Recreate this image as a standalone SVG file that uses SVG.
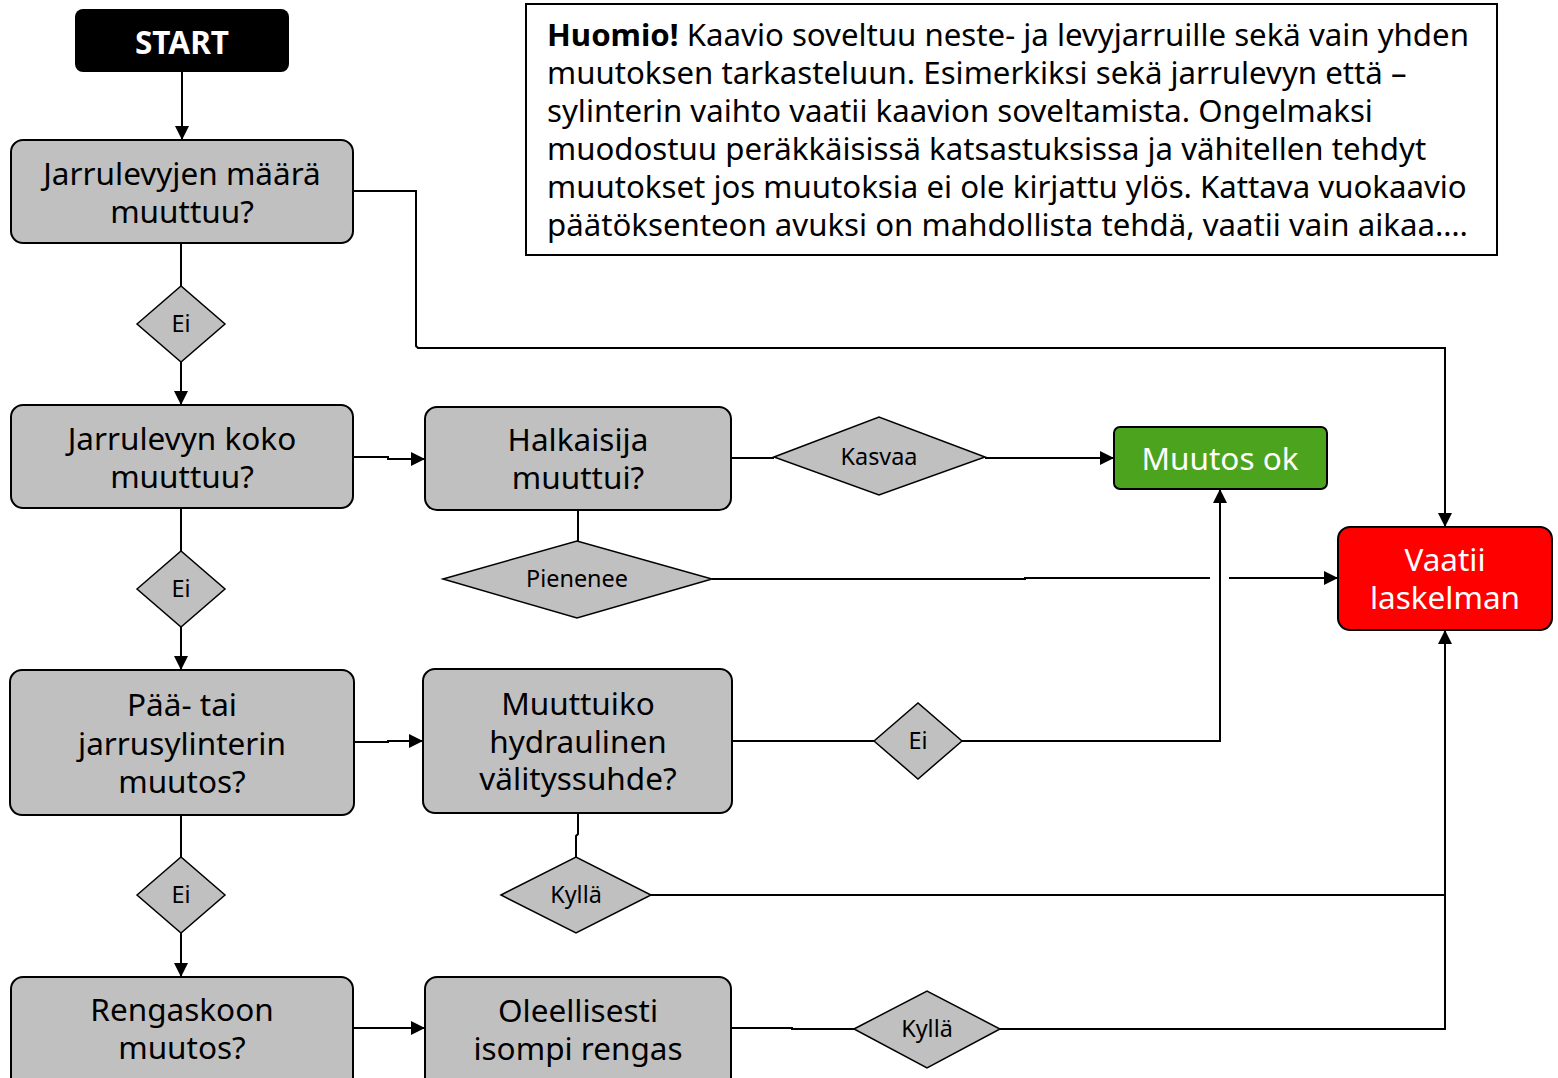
<svg xmlns="http://www.w3.org/2000/svg" width="1558" height="1078" viewBox="0 0 1558 1078">
<style>
.box{fill:#c0c0c0;stroke:#000;stroke-width:2}
.dia{fill:#c0c0c0;stroke:#000;stroke-width:1.5}
.t{font-family:"Noto Sans","Open Sans",sans-serif;font-size:31.5px;fill:#000;text-anchor:middle}
.d{font-family:"Noto Sans","Open Sans",sans-serif;font-size:23.4px;fill:#000;text-anchor:middle}
.w{fill:#fff}
.n{font-family:"Noto Sans","Open Sans",sans-serif;font-size:31.2px;fill:#000}
.c{fill:none;stroke:#000;stroke-width:2}
</style>
<defs>
<marker id="a" markerWidth="15" markerHeight="15" refX="14" refY="7.5" orient="auto" markerUnits="userSpaceOnUse" viewBox="0 0 15 15">
<path d="M0,0.5 L14,7.5 L0,14.5 z" fill="#000"/>
</marker>
</defs>
<rect width="1558" height="1078" fill="#fff"/>
<g id="connectors">
<path class="c" d="M182,72 V140" marker-end="url(#a)"/>
<path class="c" d="M181,243 V286"/>
<path class="c" d="M181,362 V405" marker-end="url(#a)"/>
<path class="c" d="M353,191 H416 V346 L418,348 H1445 V527" marker-end="url(#a)"/>
<path class="c" d="M181,508 V551"/>
<path class="c" d="M181,627 V670" marker-end="url(#a)"/>
<path class="c" d="M181,815 V857"/>
<path class="c" d="M181,933 V977" marker-end="url(#a)"/>
<path class="c" d="M353,457 H388 V459 H425" marker-end="url(#a)"/>
<path class="c" d="M731,458 H774"/>
<path class="c" d="M985,458 H1114" marker-end="url(#a)"/>
<path class="c" d="M578,510 V541"/>
<path class="c" d="M712,579 H1025 V578 H1210"/>
<path class="c" d="M1229,578 H1338" marker-end="url(#a)"/>
<path class="c" d="M354,742 H388 V741 H423" marker-end="url(#a)"/>
<path class="c" d="M732,741 H874"/>
<path class="c" d="M962,741 H1220 V489" marker-end="url(#a)"/>
<path class="c" d="M578,813 V834 L576,836 V857"/>
<path class="c" d="M651,895 H1445"/>
<path class="c" d="M353,1028 H425" marker-end="url(#a)"/>
<path class="c" d="M731,1028 H792 V1029 H854"/>
<path class="c" d="M1000,1029 H1445 V630" marker-end="url(#a)"/>
</g>
<g id="start">
<rect x="75" y="9" width="214" height="63" rx="8" fill="#000"/>
<text class="t w" x="182" y="54" font-weight="bold">START</text>
</g>
<g id="note">
<rect x="526" y="4" width="971" height="251" fill="#fff" stroke="#000" stroke-width="2"/>
<text class="n" x="547" y="46"><tspan font-weight="bold">Huomio!</tspan> Kaavio soveltuu neste- ja levyjarruille sekä vain yhden</text>
<text class="n" x="547" y="84">muutoksen tarkasteluun. Esimerkiksi sekä jarrulevyn että –</text>
<text class="n" x="547" y="122">sylinterin vaihto vaatii kaavion soveltamista. Ongelmaksi</text>
<text class="n" x="547" y="160">muodostuu peräkkäisissä katsastuksissa ja vähitellen tehdyt</text>
<text class="n" x="547" y="198">muutokset jos muutoksia ei ole kirjattu ylös. Kattava vuokaavio</text>
<text class="n" x="547" y="236">päätöksenteon avuksi on mahdollista tehdä, vaatii vain aikaa….</text>
</g>
<g id="q1">
<rect class="box" x="11" y="140" width="342" height="103" rx="12"/>
<text class="t" x="182" y="185">Jarrulevyjen määrä</text>
<text class="t" x="182" y="223">muuttuu?</text>
</g>
<g id="ei1">
<polygon class="dia" points="137,324 181,286 225,324 181,362"/>
<text class="d" x="181" y="332">Ei</text>
</g>
<g id="q2">
<rect class="box" x="11" y="405" width="342" height="103" rx="12"/>
<text class="t" x="182" y="450">Jarrulevyn koko</text>
<text class="t" x="182" y="488">muuttuu?</text>
</g>
<g id="ei2">
<polygon class="dia" points="137,589 181,551 225,589 181,627"/>
<text class="d" x="181" y="597">Ei</text>
</g>
<g id="q3">
<rect class="box" x="10" y="670" width="344" height="145" rx="12"/>
<text class="t" x="182" y="716">Pää- tai</text>
<text class="t" x="182" y="755">jarrusylinterin</text>
<text class="t" x="182" y="793">muutos?</text>
</g>
<g id="ei3">
<polygon class="dia" points="137,895 181,857 225,895 181,933"/>
<text class="d" x="181" y="903">Ei</text>
</g>
<g id="q4">
<rect class="box" x="11" y="977" width="342" height="115" rx="12"/>
<text class="t" x="182" y="1021">Rengaskoon</text>
<text class="t" x="182" y="1059">muutos?</text>
</g>
<g id="halkaisija">
<rect class="box" x="425" y="407" width="306" height="103" rx="12"/>
<text class="t" x="578" y="451">Halkaisija</text>
<text class="t" x="578" y="489">muuttui?</text>
</g>
<g id="kasvaa">
<polygon class="dia" points="774,457 879,417 985,457 879,495"/>
<text class="d" x="879" y="465">Kasvaa</text>
</g>
<g id="muutosok">
<rect x="1114" y="427" width="213" height="62" rx="6" fill="#4ca41e" stroke="#000" stroke-width="2"/>
<text class="t w" x="1220" y="470">Muutos ok</text>
</g>
<g id="pienenee">
<polygon class="dia" points="443,579 577,541 712,579 577,618"/>
<text class="d" x="577" y="587">Pienenee</text>
</g>
<g id="muuttuiko">
<rect class="box" x="423" y="669" width="309" height="144" rx="12"/>
<text class="t" x="578" y="715">Muuttuiko</text>
<text class="t" x="578" y="753">hydraulinen</text>
<text class="t" x="578" y="790">välityssuhde?</text>
</g>
<g id="ei4">
<polygon class="dia" points="874,741 918,703 962,741 918,779"/>
<text class="d" x="918" y="749">Ei</text>
</g>
<g id="kylla1">
<polygon class="dia" points="501,895 576,857 651,895 576,933"/>
<text class="d" x="576" y="903">Kyllä</text>
</g>
<g id="oleellisesti">
<rect class="box" x="425" y="977" width="306" height="115" rx="12"/>
<text class="t" x="578" y="1022">Oleellisesti</text>
<text class="t" x="578" y="1060">isompi rengas</text>
</g>
<g id="kylla2">
<polygon class="dia" points="854,1029 927,991 1000,1029 927,1068"/>
<text class="d" x="927" y="1037">Kyllä</text>
</g>
<g id="vaatii">
<rect x="1338" y="527" width="214" height="103" rx="12" fill="#ff0000" stroke="#000" stroke-width="2"/>
<text class="t w" x="1445" y="571">Vaatii</text>
<text class="t w" x="1445" y="609">laskelman</text>
</g>
</svg>
